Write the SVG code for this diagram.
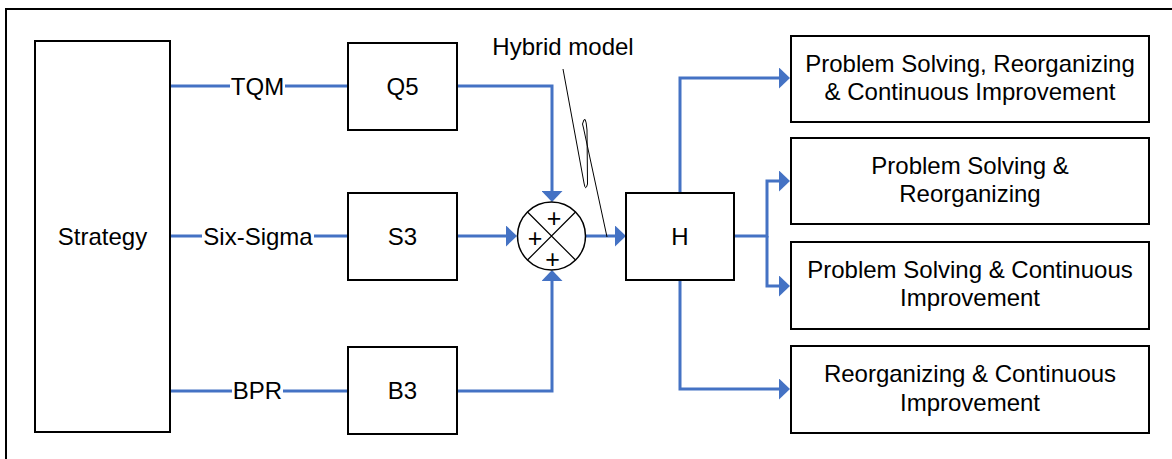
<svg xmlns="http://www.w3.org/2000/svg" width="1172" height="459" viewBox="0 0 1172 459">
<defs>
<style>
.box{fill:#fff;stroke:#000;stroke-width:2}
.t{font-family:"Liberation Sans",Arial,sans-serif;font-size:24px;fill:#000;text-anchor:middle}
.pl{font-family:"Liberation Sans",Arial,sans-serif;font-size:25px;fill:#000;text-anchor:middle}
.c{fill:none;stroke:#4472C4;stroke-width:3}
.ca{fill:none;stroke:#4472C4;stroke-width:3;marker-end:url(#ah)}
</style>
<marker id="ah" markerUnits="userSpaceOnUse" viewBox="0 0 11 21" markerWidth="11" markerHeight="21" refX="8" refY="10.5" orient="auto">
<path d="M0,0 L11,10.5 L0,21 Z" fill="#4472C4"/>
</marker>
</defs>
<rect x="6" y="9" width="1200" height="500" fill="#fff" stroke="#000" stroke-width="2"/>

<g id="connectors">
<path class="c" d="M170,86 H230 M285,86 H348"/>
<path class="c" d="M170,236 H202 M314,236 H348"/>
<path class="c" d="M170,391 H232 M283,391 H348"/>
<path class="ca" d="M457,86 H552 V199"/>
<path class="ca" d="M457,236 H514"/>
<path class="ca" d="M457,391 H552 V273"/>
<path class="ca" d="M586,236 H623"/>
<path class="ca" d="M680,193 V78 H787"/>
<path class="ca" d="M734,236 H767 V181 H787"/>
<path class="ca" d="M767,236 V286 H787"/>
<path class="ca" d="M680,280 V389 H787"/>
<path d="M563,69 L584,183 Q585.5,192 587.5,184 L587,130 Q585.5,112 582.5,124 L583.5,128 L607,237" fill="none" stroke="#000" stroke-width="1"/>
</g>

<g id="strategy"><rect class="box" x="35" y="41" width="135" height="391"/><text class="t" x="102.5" y="244.5">Strategy</text></g>
<g id="tqm-label"><text class="t" x="257.5" y="95">TQM</text></g>
<g id="sixsigma-label"><text class="t" x="258" y="244.5">Six-Sigma</text></g>
<g id="bpr-label"><text class="t" x="257.5" y="398.5">BPR</text></g>
<g id="q5"><rect class="box" x="348" y="43" width="109" height="87"/><text class="t" x="402.5" y="95">Q5</text></g>
<g id="s3"><rect class="box" x="348" y="193" width="109" height="87"/><text class="t" x="402.5" y="244.5">S3</text></g>
<g id="b3"><rect class="box" x="348" y="347" width="109" height="87"/><text class="t" x="402.5" y="398.5">B3</text></g>
<g id="sum">
<circle cx="551.5" cy="236" r="34" fill="#fff" stroke="#000" stroke-width="1.5"/>
<path d="M527.5,212 L575.5,260 M575.5,212 L527.5,260" stroke="#000" stroke-width="1.2"/>
<text class="pl" x="554" y="226.5">+</text>
<text class="pl" x="535" y="246.5">+</text>
<text class="pl" x="552.5" y="267.5">+</text>
</g>
<g id="hybrid-label"><text class="t" x="563" y="55">Hybrid model</text></g>
<g id="h"><rect class="box" x="626" y="193" width="108" height="87"/><text class="t" x="680" y="244.5">H</text></g>
<g id="out1"><rect class="box" x="791" y="36" width="358" height="86"/><text class="t" x="970" y="72">Problem Solving, Reorganizing</text><text class="t" x="970" y="100">&amp; Continuous Improvement</text></g>
<g id="out2"><rect class="box" x="791" y="138" width="358" height="86"/><text class="t" x="970" y="173.5">Problem Solving &amp;</text><text class="t" x="970" y="202">Reorganizing</text></g>
<g id="out3"><rect class="box" x="791" y="242" width="358" height="87"/><text class="t" x="970" y="277.5">Problem Solving &amp; Continuous</text><text class="t" x="970" y="306">Improvement</text></g>
<g id="out4"><rect class="box" x="791" y="346" width="358" height="87"/><text class="t" x="970" y="382">Reorganizing &amp; Continuous</text><text class="t" x="970" y="410.5">Improvement</text></g>
</svg>
